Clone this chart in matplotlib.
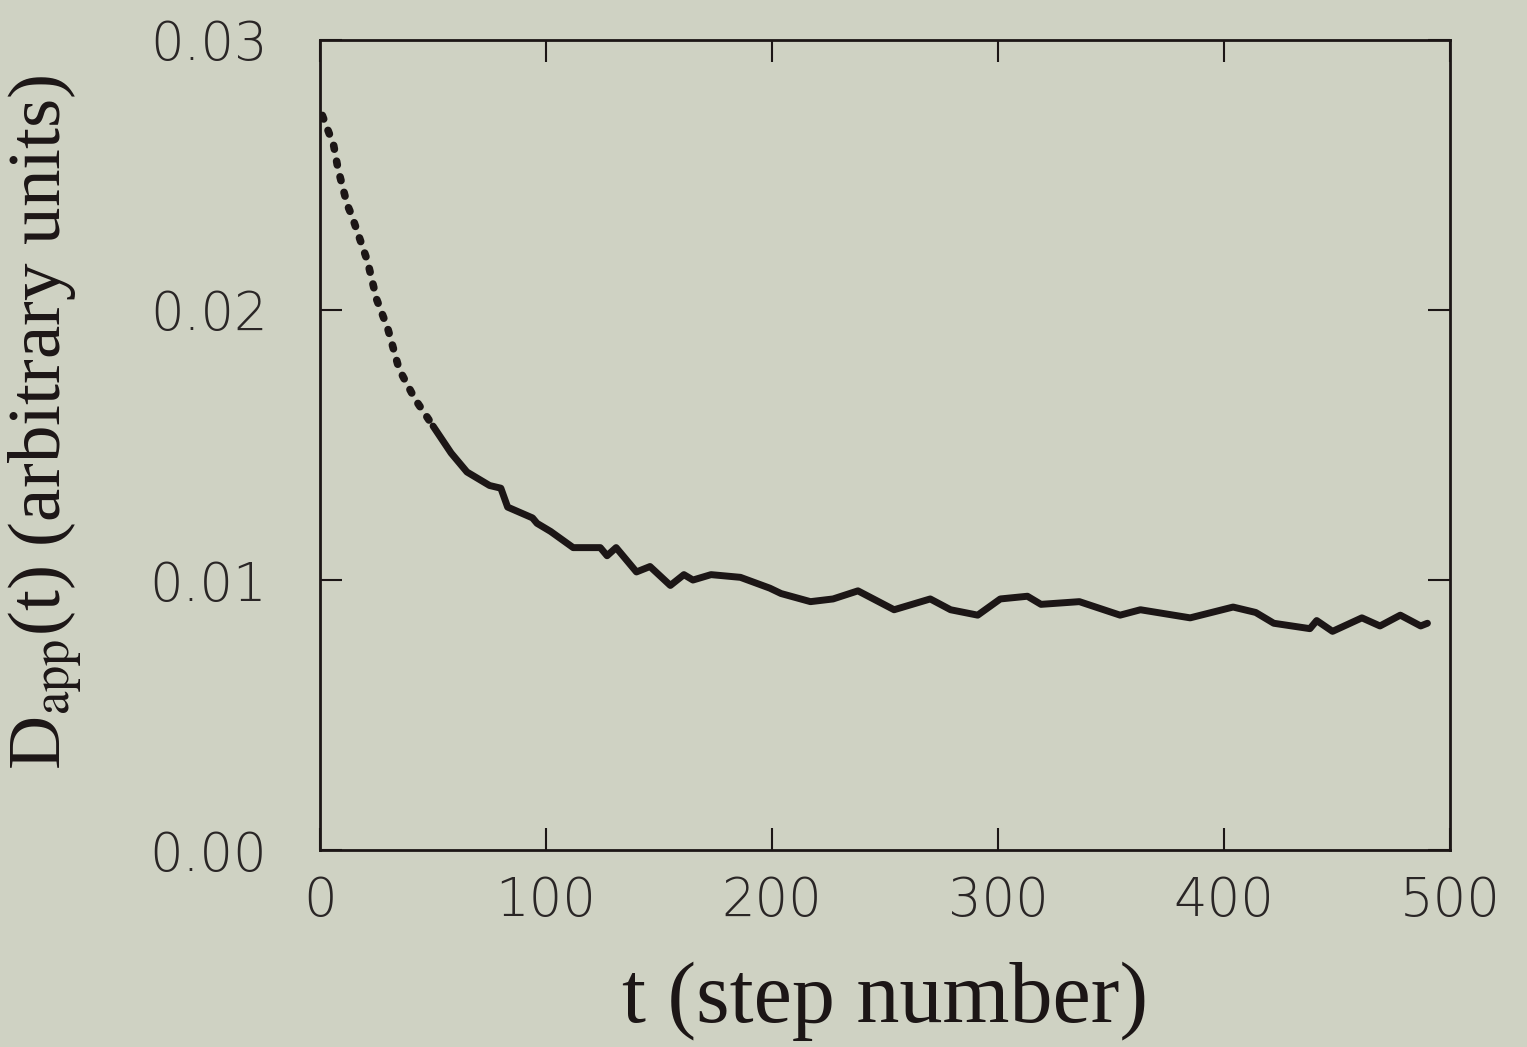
import numpy as np
import matplotlib
matplotlib.use("Agg")
import matplotlib.pyplot as plt

# valores
t = [1, 6, 8, 12, 14, 21, 25, 30, 35, 42, 50, 58, 65, 75, 80, 83, 94, 96,
     102, 112, 124, 127, 131, 140, 146, 155, 161, 165, 173, 186, 199, 204,
     217, 227, 238, 254, 270, 279, 291, 301, 313, 319, 336, 354, 363, 385,
     404, 414, 422, 438, 441, 448, 461, 469, 478, 487, 490]
d_app = [0.0272, 0.0261, 0.0252, 0.0239, 0.0235, 0.0218, 0.0204, 0.0193,
         0.0178, 0.0167, 0.0157, 0.0147, 0.0140, 0.0135, 0.0134, 0.0127,
         0.0123, 0.0121, 0.0118, 0.0112, 0.0112, 0.0109, 0.0112, 0.0103,
         0.0105, 0.0098, 0.0102, 0.0100, 0.0102, 0.0101, 0.0097, 0.0095,
         0.0092, 0.0093, 0.0096, 0.0089, 0.0093, 0.0089, 0.0087, 0.0093,
         0.0094, 0.0091, 0.0092, 0.0087, 0.0089, 0.0086, 0.0090, 0.0088,
         0.0084, 0.0082, 0.0085, 0.0081, 0.0086, 0.0083, 0.0087, 0.0083,
         0.0084]
x_ticks = [0, 100, 200, 300, 400, 500]
y_ticks = [0.00, 0.01, 0.02, 0.03]
split = 11  # hasta aqui la curva se ve punteada

bg = "#cfd2c3"
ink = "#1c1616"

plt.rcParams["mathtext.fontset"] = "stix"
fig = plt.figure(figsize=(15.27, 10.47), dpi=100, facecolor=bg)
ax = fig.add_axes([0.2096, 0.188, 0.74, 0.774], facecolor=bg)

ax.plot(t[:split], d_app[:split], color=ink, lw=5.5, ls=(0, (0.5, 1.6)),
        dash_capstyle="round", solid_capstyle="round")
ax.plot(t[split - 1:], d_app[split - 1:], color=ink, lw=5,
        solid_joinstyle="round", solid_capstyle="round")

ax.set_xlim(0, 500)
ax.set_ylim(0, 0.03)
ax.set_xticks(x_ticks)
ax.set_yticks(y_ticks)
ax.set_xticklabels([str(v) for v in x_ticks])
ax.set_yticklabels(["%.2f" % v for v in y_ticks])

for s in ax.spines.values():
    s.set_color(ink)
    s.set_linewidth(2)

ax.tick_params(direction="in", length=16, width=1.5, color=ink,
               top=True, right=True, labelsize=38, labelcolor="#2a2626")
ax.tick_params(axis="x", pad=18)
ax.tick_params(axis="y", pad=38)
for lab in ax.get_xticklabels() + ax.get_yticklabels():
    lab.set_fontweight("light")

ax.set_xlabel("t (step number)", family="Liberation Serif", fontsize=62,
              color=ink, labelpad=24)
ax.set_ylabel(r"D$_{\mathrm{app}}$(t) (arbitrary units)",
              family="Liberation Serif", fontsize=54, color=ink)
ax.yaxis.set_label_coords(-0.208, 0.528)

fig.savefig("out.png", dpi=100, facecolor=bg)
